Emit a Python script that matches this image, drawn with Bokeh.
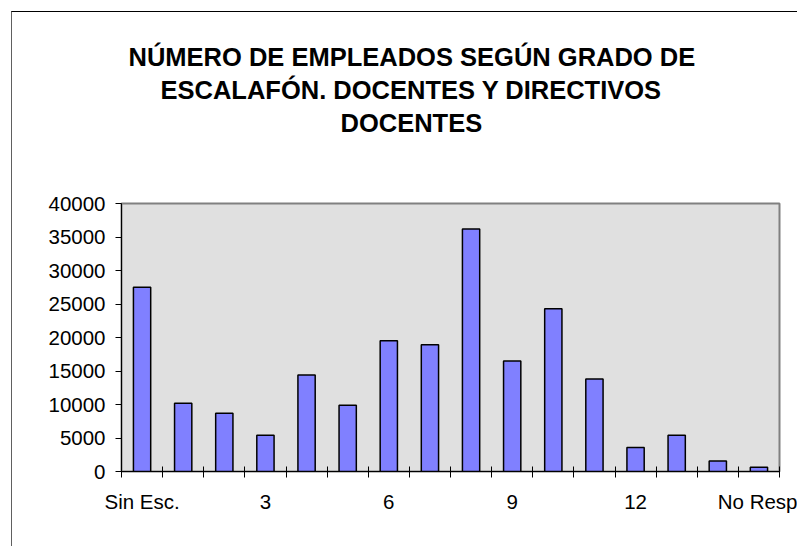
from bokeh.plotting import figure
from bokeh.layouts import column
from bokeh.models import Range1d, FixedTicker, Title, ColumnDataSource
from bokeh.embed import file_html
from bokeh.resources import INLINE

# ---- data ----
categories = ["Sin Esc.", "1", "2", "3", "4", "5", "6", "7", "8", "9",
              "10", "11", "12", "13", "14", "No Resp"]
values = [27500, 10200, 8700, 5400, 14400, 9900, 19500, 18900, 36200,
          16500, 24300, 13800, 3600, 5400, 1550, 650]
y_ticks = [0, 5000, 10000, 15000, 20000, 25000, 30000, 35000, 40000]
labeled_idx = [0, 3, 6, 9, 12, 15]
title_lines = ["NÚMERO DE EMPLEADOS SEGÚN GRADO DE",
               "ESCALAFÓN. DOCENTES Y DIRECTIVOS",
               "DOCENTES"]

FONT = "Liberation Sans"
OFF = 12                               # outer chart border offset (page px)
W, H = 797 - OFF, 546 - OFF
FL, FT, FR, FB = 121 - OFF, 203 - OFF, 779 - OFF, 471 - OFF   # frame edges in canvas px

n = len(categories)
xs = [i + 0.5 for i in range(n)]
src = ColumnDataSource(dict(x=xs, top=values, cat=categories))

p = figure(width=W, height=H, output_backend="svg", toolbar_location=None,
           x_range=Range1d(0, n), y_range=Range1d(y_ticks[0], y_ticks[-1]),
           min_border_left=FL, min_border_right=W - FR,
           min_border_top=FT, min_border_bottom=H - FB)

p.background_fill_color = "#E0E0E0"
p.border_fill_color = "white"
p.outline_line_color = "#808080"
p.outline_line_width = 2
p.xgrid.visible = False
p.ygrid.visible = False

p.vbar(x="x", top="top", bottom=0, width=0.42, source=src,
       fill_color="#8080FF", line_color="black", line_width=1.5)

# x axis
xa = p.xaxis[0]
xa.ticker = FixedTicker(ticks=[i + 0.5 for i in labeled_idx],
                        minor_ticks=list(range(n + 1)))
xa.major_label_overrides = {i + 0.5: categories[i] for i in labeled_idx}
xa.major_tick_in = 0
xa.major_tick_out = 0
xa.minor_tick_in = 5
xa.minor_tick_out = 6
xa.minor_tick_line_color = "black"
xa.axis_line_color = "black"
xa.major_label_text_font = FONT
xa.major_label_text_font_size = "20.5px"
xa.major_label_text_color = "black"
xa.major_label_standoff = 12

# y axis
ya = p.yaxis[0]
ya.ticker = FixedTicker(ticks=y_ticks, minor_ticks=[])
ya.major_tick_in = 0
ya.major_tick_out = 6
ya.major_tick_line_color = "black"
ya.axis_line_color = "black"
ya.major_label_text_font = FONT
ya.major_label_text_font_size = "20.5px"
ya.major_label_text_color = "black"
ya.major_label_standoff = 10

# title: stacked Title rows (first added sits nearest the frame)
TFS = "25.5px"
p.add_layout(Title(text=" ", standoff=35, text_font=FONT,
                   text_font_size=TFS), "above")          # spacer row
title_left = [128, 160, 340]                              # page x of each line's left edge
for line, lx in reversed(list(zip(title_lines, title_left))):
    p.add_layout(Title(text=line, align="left", offset=lx - 121,
                       standoff=3, text_font=FONT, text_font_style="bold",
                       text_font_size=TFS, text_color="black"), "above")

layout = column(p, styles={"margin-left": f"{OFF - 1}px", "margin-top": f"{OFF - 1}px",
                           "border-left": "1px solid #606060",
                           "border-top": "1px solid black"})

open("out.html", "w").write(file_html(layout, INLINE))
